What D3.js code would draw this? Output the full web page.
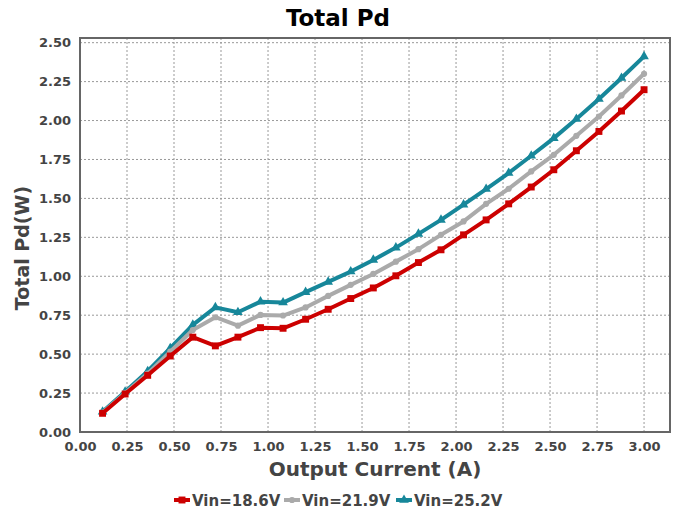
<!DOCTYPE html>
<html><head><meta charset="utf-8">
<script src="https://cdn.jsdelivr.net/npm/d3@7"></script>
<style>body{margin:0;background:#fff}svg{display:block}text{font-family:"DejaVu Sans",sans-serif;font-weight:bold}</style>
</head><body><svg id="c" width="675" height="512"></svg>
<script>
const current = [0.12,0.24,0.36,0.48,0.60,0.72,0.84,0.96,1.08,1.20,1.32,1.44,1.56,1.68,1.80,1.92,2.04,2.16,2.28,2.40,2.52,2.64,2.76,2.88,3.00];
const pd186 = [0.12,0.244,0.364,0.488,0.609,0.553,0.609,0.67,0.666,0.724,0.788,0.857,0.925,1.003,1.088,1.17,1.266,1.362,1.465,1.573,1.684,1.806,1.93,2.061,2.198];
const pd219 = [0.125,0.25,0.375,0.516,0.655,0.737,0.683,0.752,0.748,0.80,0.874,0.945,1.015,1.094,1.174,1.266,1.352,1.465,1.562,1.673,1.78,1.902,2.026,2.161,2.30];
const pd252 = [0.13,0.258,0.39,0.538,0.688,0.80,0.769,0.837,0.831,0.898,0.964,1.03,1.105,1.184,1.272,1.362,1.46,1.56,1.663,1.774,1.887,2.01,2.138,2.273,2.412];
const seriesNames = ["Vin=18.6V","Vin=21.9V","Vin=25.2V"];
const xTicks = [0,0.25,0.5,0.75,1,1.25,1.5,1.75,2,2.25,2.5,2.75,3];
const yTicks = [0,0.25,0.5,0.75,1,1.25,1.5,1.75,2,2.25,2.5];
const titleText = "Total Pd", xLabel = "Output Current (A)", yLabel = "Total Pd(W)";

const colors = ["#cc0000","#aaaaaa","#17879a"];
const shapes = [d3.symbolSquare, d3.symbolCircle, d3.symbolTriangle];
const symSizes = [48, 30, 40];
const all = [pd186, pd219, pd252];

const svg = d3.select("#c");
const L=80,R=670,T=38,B=432;
const x = d3.scaleLinear().domain([0,3.138]).range([L,R]);
const y = d3.scaleLinear().domain([0,2.53]).range([B,T]);

// grid
const g = svg.append("g");
g.selectAll(".vx").data(xTicks.slice(1)).join("line")
 .attr("x1",d=>x(d)).attr("x2",d=>x(d)).attr("y1",T).attr("y2",B)
 .attr("stroke","#999").attr("stroke-width",1).attr("stroke-dasharray","2,2");
g.selectAll(".hy").data(yTicks.slice(1)).join("line")
 .attr("y1",d=>y(d)).attr("y2",d=>y(d)).attr("x1",L).attr("x2",R)
 .attr("stroke","#999").attr("stroke-width",1).attr("stroke-dasharray","2,2");

// axes labels via d3 axes
const xa = svg.append("g").attr("transform",`translate(0,${B})`)
 .call(d3.axisBottom(x).tickValues(xTicks).tickFormat(d3.format(".2f")).tickSize(0).tickPadding(10));
const ya = svg.append("g").attr("transform",`translate(${L},0)`)
 .call(d3.axisLeft(y).tickValues(yTicks).tickFormat(d3.format(".2f")).tickSize(0).tickPadding(9));
[xa,ya].forEach(a=>{a.select(".domain").remove();a.selectAll("text").attr("fill","#444").style("font-size","13px").style("font-weight","bold");});

// frame
svg.append("rect").attr("x",L).attr("y",T).attr("width",R-L).attr("height",B-T)
 .attr("fill","none").attr("stroke","#666").attr("stroke-width",2);

// lines (drawn so the first series ends on top)
const line = d3.line().x((d,i)=>x(current[i])).y(d=>y(d));
[2,1,0].forEach(k=>{
  const s = all[k];
  svg.append("path").datum(s).attr("d",line).attr("fill","none")
   .attr("stroke",colors[k]).attr("stroke-width",4).attr("stroke-linejoin","round");
  svg.append("g").selectAll("path").data(s).join("path")
   .attr("d",d3.symbol().type(shapes[k]).size(symSizes[k]))
   .attr("transform",(d,i)=>`translate(${x(current[i])},${y(d)})`)
   .attr("fill",colors[k]);
});

// title & labels
svg.append("text").attr("x",338).attr("y",26).attr("text-anchor","middle")
 .style("font-size","23px").attr("fill","#000").text(titleText);
svg.append("text").attr("x",375).attr("y",476).attr("text-anchor","middle")
 .style("font-size","20px").attr("fill","#444").text(xLabel);
svg.append("text").attr("transform","translate(29,248) rotate(-90)").attr("text-anchor","middle")
 .style("font-size","19px").attr("fill","#444").text(yLabel);

// legend
const lg = svg.append("g");
const lx = [174, 284, 396];
seriesNames.forEach((n,k)=>{
  lg.append("line").attr("x1",lx[k]).attr("x2",lx[k]+16).attr("y1",500).attr("y2",500)
    .attr("stroke",colors[k]).attr("stroke-width",4);
  lg.append("path").attr("d",d3.symbol().type(shapes[k]).size(symSizes[k]))
    .attr("transform",`translate(${lx[k]+8},500)`).attr("fill",colors[k]);
  lg.append("text").attr("x",lx[k]+18).attr("y",505.5).style("font-size","15px").attr("fill","#444").text(n);
});
</script></body></html>
